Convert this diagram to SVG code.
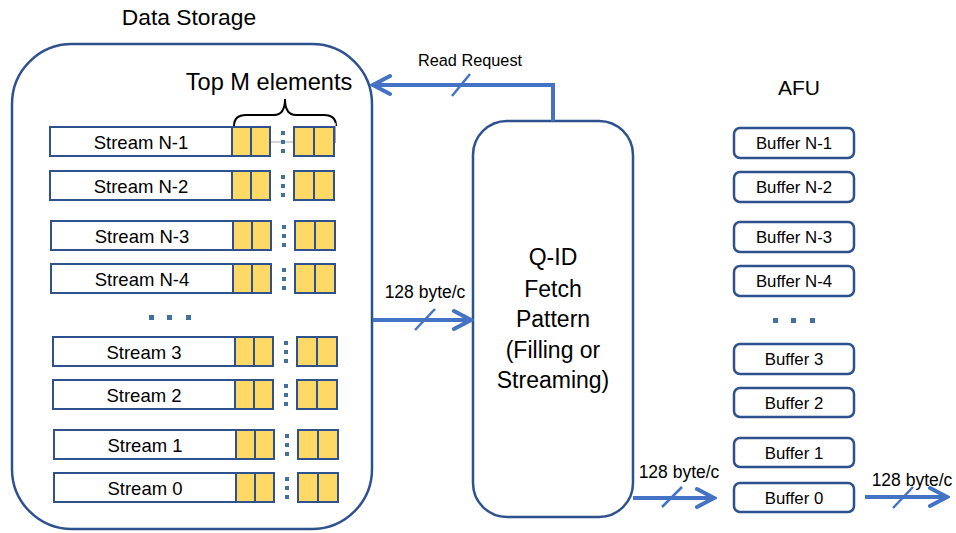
<svg xmlns="http://www.w3.org/2000/svg" width="956" height="533" viewBox="0 0 956 533">
  <style>
    text { font-family: "Liberation Sans", Arial, sans-serif; fill: #000; }
    .box { fill: #fff; stroke: #2F528F; stroke-width: 2.5; }
    .srect { fill: #fff; stroke: #2F528F; stroke-width: 2; }
    .cell { fill: #FFD966; stroke: #2F528F; stroke-width: 2; }
    .dot { fill: #41719C; }
    .stxt { font-size: 18.5px; text-anchor: middle; }
    .btxt { font-size: 16.8px; text-anchor: middle; }
    .qtxt { font-size: 23px; text-anchor: middle; }
    .lbl { font-size: 17.5px; text-anchor: middle; }
    .conn { fill: none; stroke: #4472C4; stroke-width: 4; }
    .slash { stroke: #4472C4; stroke-width: 2.5; }
  </style>
  <defs>
    <marker id="arr" viewBox="-22 -12 24 24" refX="0" refY="0" markerWidth="24" markerHeight="24" markerUnits="userSpaceOnUse" orient="auto">
      <path d="M-18,-9 L-1,0 L-18,9" fill="none" stroke="#4472C4" stroke-width="4" stroke-linecap="round"/>
    </marker>
    <g id="srow">
      <rect class="srect" x="0" y="0" width="182" height="29"/>
      <rect class="cell" x="182" y="0" width="19" height="29"/>
      <rect class="cell" x="201" y="0" width="19" height="29"/>
      <rect class="dot" x="231" y="4" width="4" height="4"/>
      <rect class="dot" x="231" y="13" width="4" height="4"/>
      <rect class="dot" x="231" y="22" width="4" height="4"/>
      <rect class="cell" x="244" y="0" width="20" height="29"/>
      <rect class="cell" x="264" y="0" width="20" height="29"/>
    </g>
  </defs>

  <g id="data-storage">
    <text x="189" y="25" font-size="22.8" text-anchor="middle">Data Storage</text>
    <rect class="box" x="12" y="44" width="360" height="485" rx="60" ry="60"/>
    <text x="269" y="90" font-size="23.6" text-anchor="middle">Top M elements</text>
    <path d="M234,126 Q234,115 246,115 L274,115 Q285,115 285,99 Q285,115 296,115 L324,115 Q336,115 336,126" fill="none" stroke="#000" stroke-width="2"/>
    <line x1="270" y1="142" x2="294" y2="142" stroke="#A6A6A6" stroke-width="1"/>
    <line x1="335.5" y1="123" x2="335.5" y2="143" stroke="#A6A6A6" stroke-width="1"/>
  </g>

  <g id="stream-n-1" transform="translate(50,127)"><use href="#srow"/><text class="stxt" x="91" y="21.5">Stream N-1</text></g>
  <g id="stream-n-2" transform="translate(50,171)"><use href="#srow"/><text class="stxt" x="91" y="21.5">Stream N-2</text></g>
  <g id="stream-n-3" transform="translate(51,221)"><use href="#srow"/><text class="stxt" x="91" y="21.5">Stream N-3</text></g>
  <g id="stream-n-4" transform="translate(51,264)"><use href="#srow"/><text class="stxt" x="91" y="21.5">Stream N-4</text></g>
  <g id="stream-ellipsis">
    <rect class="dot" x="149" y="315" width="5" height="5"/>
    <rect class="dot" x="167" y="315" width="5" height="5"/>
    <rect class="dot" x="186" y="315" width="5" height="5"/>
  </g>
  <g id="stream-3" transform="translate(53,337)"><use href="#srow"/><text class="stxt" x="91" y="21.5">Stream 3</text></g>
  <g id="stream-2" transform="translate(53,380)"><use href="#srow"/><text class="stxt" x="91" y="21.5">Stream 2</text></g>
  <g id="stream-1" transform="translate(54,430)"><use href="#srow"/><text class="stxt" x="91" y="21.5">Stream 1</text></g>
  <g id="stream-0" transform="translate(54,473)"><use href="#srow"/><text class="stxt" x="91" y="21.5">Stream 0</text></g>

  <g id="qid-fetch">
    <rect class="box" x="473" y="121" width="160" height="396" rx="34" ry="34"/>
    <text class="qtxt" x="553" y="265">Q-ID</text>
    <text class="qtxt" x="553" y="297">Fetch</text>
    <text class="qtxt" x="553" y="327">Pattern</text>
    <text class="qtxt" x="553" y="358">(Filling or</text>
    <text class="qtxt" x="553" y="388">Streaming)</text>
  </g>

  <g id="afu">
    <text x="799" y="95" font-size="21" text-anchor="middle">AFU</text>
  </g>
  <g id="buffer-n-1"><rect class="box" x="734" y="128" width="120" height="30" rx="6"/><text class="btxt" x="794" y="149">Buffer N-1</text></g>
  <g id="buffer-n-2"><rect class="box" x="734" y="172" width="120" height="30" rx="6"/><text class="btxt" x="794" y="193">Buffer N-2</text></g>
  <g id="buffer-n-3"><rect class="box" x="734" y="222" width="120" height="30" rx="6"/><text class="btxt" x="794" y="243">Buffer N-3</text></g>
  <g id="buffer-n-4"><rect class="box" x="734" y="266" width="120" height="30" rx="6"/><text class="btxt" x="794" y="287">Buffer N-4</text></g>
  <g id="buffer-ellipsis">
    <rect class="dot" x="773" y="318" width="5" height="5"/>
    <rect class="dot" x="791" y="318" width="5" height="5"/>
    <rect class="dot" x="810" y="318" width="5" height="5"/>
  </g>
  <g id="buffer-3"><rect class="box" x="734" y="344" width="120" height="30" rx="6"/><text class="btxt" x="794" y="365">Buffer 3</text></g>
  <g id="buffer-2"><rect class="box" x="734" y="388" width="120" height="29" rx="6"/><text class="btxt" x="794" y="408.5">Buffer 2</text></g>
  <g id="buffer-1"><rect class="box" x="734" y="438" width="120" height="29" rx="6"/><text class="btxt" x="794" y="458.5">Buffer 1</text></g>
  <g id="buffer-0"><rect class="box" x="734" y="483" width="120" height="29" rx="6"/><text class="btxt" x="794" y="503.5">Buffer 0</text></g>

  <g id="connectors">
    <path class="conn" d="M553,121 L553,85 L372,85" marker-end="url(#arr)"/>
    <line class="slash" x1="452" y1="96" x2="470" y2="74"/>
    <text class="lbl" x="470" y="66" style="font-size:16.3px">Read Request</text>

    <path class="conn" d="M373,320 L472,320" marker-end="url(#arr)"/>
    <line class="slash" x1="415" y1="330" x2="435" y2="309"/>
    <text class="lbl" x="425" y="298">128 byte/c</text>

    <path class="conn" d="M633,498 L715,498" marker-end="url(#arr)"/>
    <line class="slash" x1="662" y1="507" x2="682" y2="487"/>
    <text class="lbl" x="679" y="478">128 byte/c</text>

    <path class="conn" d="M865,497 L948,497" marker-end="url(#arr)"/>
    <line class="slash" x1="893" y1="508" x2="913" y2="487"/>
    <text class="lbl" x="912" y="486">128 byte/c</text>
  </g>
</svg>
